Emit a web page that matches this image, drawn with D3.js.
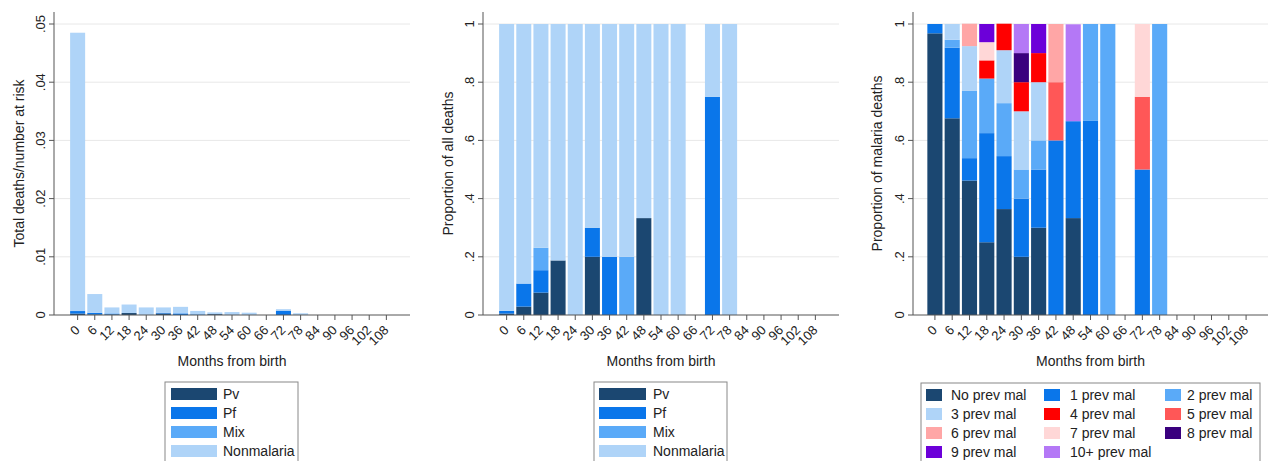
<!DOCTYPE html>
<html>
<head>
<meta charset="utf-8">
<script src="https://cdn.jsdelivr.net/npm/d3@7"></script>
<style>
  body { margin: 0; background: #fff; }
  svg { display: block; font-family: "Liberation Sans", Arial, sans-serif; }
</style>
</head>
<body>
<svg id="chart" width="1271" height="461"></svg>
<script>
// categories (months from birth)
var months = [0, 6, 12, 18, 24, 30, 36, 42, 48, 54, 60, 66, 72, 78, 84, 90, 96, 102, 108];

// panel 1: total deaths / number at risk
var totalRate = [0.0485, 0.0036, 0.0013, 0.0018, 0.0013, 0.0013, 0.0014, 0.0007, 0.00045, 0.0005, 0.0004, 0, 0.001, 0.0003];

// panel 2: proportion of all deaths (nonmalaria = remainder)
var pvShare  = [0.005, 0.029, 0.077, 0.1875, 0, 0.2, 0,   0,   0.333, 0, 0, null, 0,    0];
var pfShare  = [0.009, 0.079, 0.077, 0,      0, 0.1, 0.2, 0,   0,     0, 0, null, 0.75, 0];
var mixShare = [0,     0,     0.077, 0,      0, 0,   0,   0.2, 0,     0, 0, null, 0,    0];

// panel 3: proportion of malaria deaths by number of previous malaria episodes
var prev0  = [0.968, 0.676, 0.462, 0.25,   0.364, 0.2, 0.3, 0,   0.333, 0,     0, null, 0,    0];
var prev1  = [0.032, 0.243, 0.077, 0.375,  0.182, 0.2, 0.2, 0.6, 0.333, 0.667, 0, null, 0.5,  0];
var prev2  = [0,     0.027, 0.231, 0.1875, 0.182, 0.1, 0.1, 0,   0,     0.333, 1, null, 0,    1];
var prev3  = [0,     0.054, 0.154, 0,      0.182, 0.2, 0.2, 0,   0,     0,     0, null, 0,    0];
var prev4  = [0,     0,     0,     0.0625, 0.091, 0.1, 0.1, 0,   0,     0,     0, null, 0,    0];
var prev5  = [0,     0,     0,     0,      0,     0,   0,   0.2, 0,     0,     0, null, 0.25, 0];
var prev6  = [0,     0,     0.077, 0,      0,     0,   0,   0.2, 0,     0,     0, null, 0,    0];
var prev7  = [0,     0,     0,     0.0625, 0,     0,   0,   0,   0,     0,     0, null, 0.25, 0];
var prev8  = [0,     0,     0,     0,      0,     0.1, 0,   0,   0,     0,     0, null, 0,    0];
var prev9  = [0,     0,     0,     0.0625, 0,     0,   0.1, 0,   0,     0,     0, null, 0,    0];
var prev10 = [0,     0,     0,     0,      0,     0.1, 0,   0,   0.333, 0,     0, null, 0,    0];

var causeKeys = ["Pv", "Pf", "Mix", "Nonmalaria"];
var causeColors = ["#1b4771", "#0a76ea", "#5aaaf8", "#afd4f8"];
var prevKeys = ["No prev mal", "1 prev mal", "2 prev mal", "3 prev mal", "4 prev mal", "5 prev mal",
                "6 prev mal", "7 prev mal", "8 prev mal", "9 prev mal", "10+ prev mal"];
var prevColors = ["#1b4771", "#0a76ea", "#5aaaf8", "#afd4f8", "#ff0000", "#ff5757",
                  "#ffa6a6", "#ffd7d7", "#3a007e", "#6c00d9", "#b478f6"];
var prevSeries = [prev0, prev1, prev2, prev3, prev4, prev5, prev6, prev7, prev8, prev9, prev10];

// build rows for stacking
var shareRows = [], rateRows = [], prevRows = [];
months.forEach(function(m, i) {
  var has = i < pvShare.length && pvShare[i] !== null;
  var pv = has ? pvShare[i] : 0, pf = has ? pfShare[i] : 0, mx = has ? mixShare[i] : 0;
  var non = has ? 1 - pv - pf - mx : 0;
  shareRows.push({month: m, Pv: pv, Pf: pf, Mix: mx, Nonmalaria: non});
  var t = i < totalRate.length ? totalRate[i] : 0;
  rateRows.push({month: m, Pv: t * pv, Pf: t * pf, Mix: t * mx, Nonmalaria: t * non});
  var r = {month: m};
  prevKeys.forEach(function(k, j) {
    var v = prevSeries[j][i];
    r[k] = (v === undefined || v === null) ? 0 : v;
  });
  prevRows.push(r);
});

var svg = d3.select("#chart");
var y0 = 315, yAxisTop = 12;

function fmt(d) { return d === 0 ? "0" : d3.format(".2~f")(d).replace(/^0/, ""); }

function drawPanel(opt) {
  var g = svg.append("g");
  var x = d3.scaleBand().domain(months).range([opt.left, opt.right])
    .paddingInner(0.125).paddingOuter(opt.outer);
  var y = d3.scaleLinear().domain([0, opt.max]).range([y0, 24]);

  // gridlines
  g.selectAll(".grid").data(opt.ticks.slice(1)).enter().append("line")
    .attr("x1", opt.left).attr("x2", opt.right)
    .attr("y1", function(d) { return y(d); }).attr("y2", function(d) { return y(d); })
    .attr("stroke", "#e8e8e8").attr("stroke-width", 1);

  // stacked bars
  var stack = d3.stack().keys(opt.keys)(opt.rows);
  g.selectAll(".layer").data(stack).enter().append("g")
    .attr("fill", function(d, i) { return opt.colors[i]; })
    .selectAll("rect").data(function(d) { return d; }).enter().append("rect")
    .filter(function(d) { return d[1] - d[0] > 0; })
    .attr("x", function(d) { return x(d.data.month); })
    .attr("width", x.bandwidth())
    .attr("y", function(d) { return y(d[1]); })
    .attr("height", function(d) { return y(d[0]) - y(d[1]); });

  // y axis
  g.append("line").attr("x1", opt.left).attr("x2", opt.left)
    .attr("y1", yAxisTop).attr("y2", y0).attr("stroke", "#555");
  g.selectAll(".yt").data(opt.ticks).enter().append("line")
    .attr("x1", opt.left - 5).attr("x2", opt.left)
    .attr("y1", function(d) { return y(d); }).attr("y2", function(d) { return y(d); })
    .attr("stroke", "#555");
  g.selectAll(".yl").data(opt.ticks).enter().append("text")
    .attr("transform", function(d) { return "translate(" + (opt.left - 9) + "," + y(d) + ") rotate(-90)"; })
    .attr("text-anchor", "middle").attr("font-size", 13).attr("fill", "#222")
    .text(fmt);
  g.append("text")
    .attr("transform", "translate(" + opt.titleX + "," + ((yAxisTop + y0) / 2) + ") rotate(-90)")
    .attr("text-anchor", "middle").attr("font-size", 14).attr("fill", "#222")
    .text(opt.yTitle);

  // x axis
  g.append("line").attr("x1", opt.left).attr("x2", opt.right)
    .attr("y1", y0).attr("y2", y0).attr("stroke", "#555");
  g.selectAll(".xt").data(months).enter().append("line")
    .attr("x1", function(d) { return x(d) + x.bandwidth() / 2; })
    .attr("x2", function(d) { return x(d) + x.bandwidth() / 2; })
    .attr("y1", y0).attr("y2", y0 + 5).attr("stroke", "#555");
  g.selectAll(".xl").data(months).enter().append("text")
    .attr("transform", function(d) {
      return "translate(" + (x(d) + x.bandwidth() / 2 + 3) + "," + (y0 + 16) + ") rotate(-45)";
    })
    .attr("text-anchor", "end").attr("font-size", 13).attr("fill", "#222")
    .text(function(d) { return d; });
  g.append("text").attr("x", (opt.left + opt.right) / 2).attr("y", 366)
    .attr("text-anchor", "middle").attr("font-size", 14).attr("fill", "#222")
    .text("Months from birth");
}

function drawLegend(o) {
  var g = svg.append("g");
  g.append("rect").attr("x", o.x).attr("y", o.y).attr("width", o.w).attr("height", 90)
    .attr("fill", "#fff").attr("stroke", "#888");
  o.keys.forEach(function(k, i) {
    var col = i % o.cols, row = Math.floor(i / o.cols);
    var sy = o.y + 6 + row * 19;
    g.append("rect").attr("x", o.sx[col]).attr("y", sy).attr("width", o.sw).attr("height", 12)
      .attr("fill", o.colors[i]);
    g.append("text").attr("x", o.tx[col]).attr("y", sy + 11)
      .attr("font-size", 14).attr("fill", "#222").text(k);
  });
}

drawPanel({left: 54, right: 410, outer: 0.94, max: 0.05, ticks: [0, 0.01, 0.02, 0.03, 0.04, 0.05],
  rows: rateRows, keys: causeKeys, colors: causeColors, titleX: 24, yTitle: "Total deaths/number at risk"});
drawPanel({left: 483, right: 839, outer: 0.94, max: 1, ticks: [0, 0.2, 0.4, 0.6, 0.8, 1],
  rows: shareRows, keys: causeKeys, colors: causeColors, titleX: 453, yTitle: "Proportion of all deaths"});
drawPanel({left: 913, right: 1268, outer: 0.83, max: 1, ticks: [0, 0.2, 0.4, 0.6, 0.8, 1],
  rows: prevRows, keys: prevKeys, colors: prevColors, titleX: 882, yTitle: "Proportion of malaria deaths"});

drawLegend({x: 165, y: 382, w: 133, cols: 1, sx: [171], tx: [223], sw: 46, keys: causeKeys, colors: causeColors});
drawLegend({x: 594, y: 382, w: 133, cols: 1, sx: [599], tx: [653], sw: 47, keys: causeKeys, colors: causeColors});
drawLegend({x: 921, y: 383, w: 339, cols: 3, sx: [926, 1044, 1165], tx: [951, 1070, 1187], sw: 16,
  keys: prevKeys, colors: prevColors});
</script>
</body>
</html>
